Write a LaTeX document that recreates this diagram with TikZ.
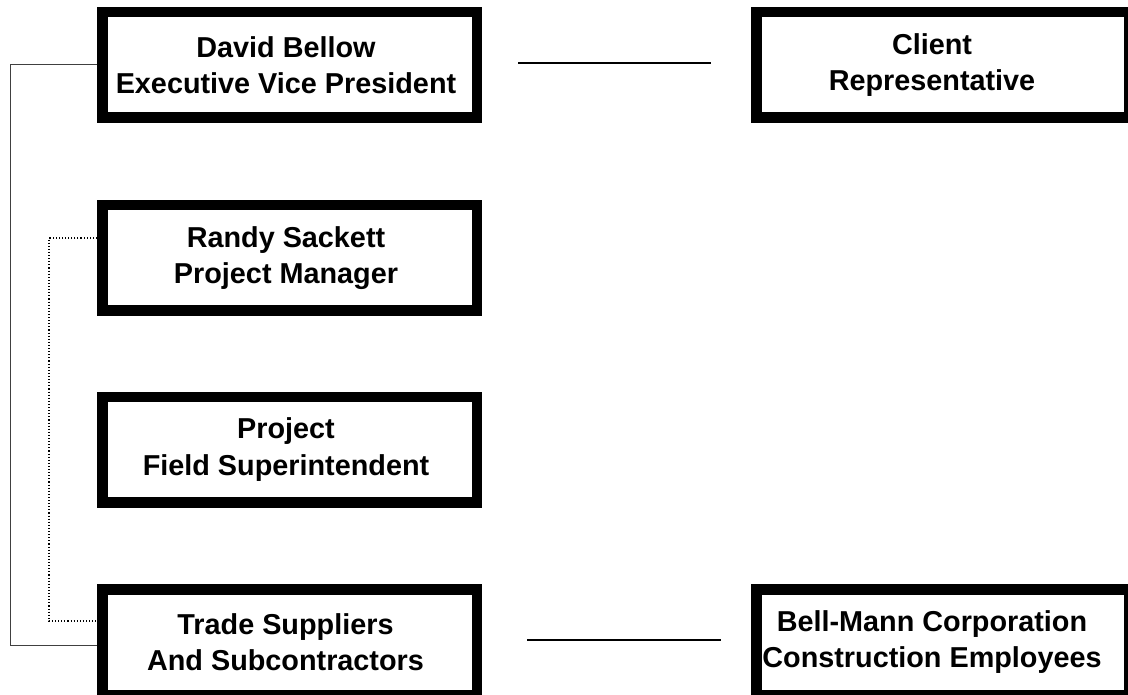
\documentclass[tikz,border=0pt]{standalone}
\usepackage{fontspec}
\setmainfont{Liberation Sans}
\begin{document}
\begin{tikzpicture}[x=1pt,y=-1pt,
  orgbox/.style={draw=black, line width=10.5pt, fill=white, rectangle,
    minimum width=374.5pt, minimum height=105.5pt, inner sep=0pt,
    align=center, font=\fontsize{28.8}{36.5}\selectfont\bfseries},
  widebox/.style={orgbox, minimum width=373pt},
  link/.style={draw=black, line width=1.4pt},
  solidlink/.style={draw=black!75, line width=1pt},
  dotlink/.style={draw=black, line width=1.1pt, dash pattern=on 1.1pt off 2pt}]
\begin{scope}
\clip (0,0) rectangle (1128,695);
\fill[white] (0,0) rectangle (1128,695);

\node[orgbox] (david)  at (289.5,65)  {David Bellow\kern7pt\\Executive Vice President\kern7pt};
\node[orgbox] (randy)  at (289.5,258) {Randy Sackett\kern7pt\\Project Manager\kern7pt};
\node[orgbox] (super)  at (289.5,449.5) {Project\kern7pt\\Field Superintendent\kern7pt};
\node[orgbox] (trade)  at (289.5,642) {Trade Suppliers\kern8pt\\And Subcontractors\kern8pt};
\node[widebox] (client) at (943,65)   {Client\kern22pt\\Representative\kern22pt};
\node[widebox] (bell)   at (943,642)  {Bell-Mann Corporation\kern22pt\\Construction Employees\kern22pt};

\coordinate (ta) at (518,63);
\coordinate (tb) at (711,63);
\coordinate (ba) at (527,640);
\coordinate (bb) at (721,640);
\draw[link] (ta) -- (tb);
\draw[link] (ba) -- (bb);

\draw[solidlink] (david.west) -- ++(-87,0) |- ([yshift=-3pt]trade.west);
\draw[dotlink] ([yshift=20pt]randy.west) -- ++(-48,0) |- ([yshift=21pt]trade.west);
\end{scope}
\pgfresetboundingbox
\path[use as bounding box] (0,0) rectangle (1128,695);
\end{tikzpicture}
\end{document}
